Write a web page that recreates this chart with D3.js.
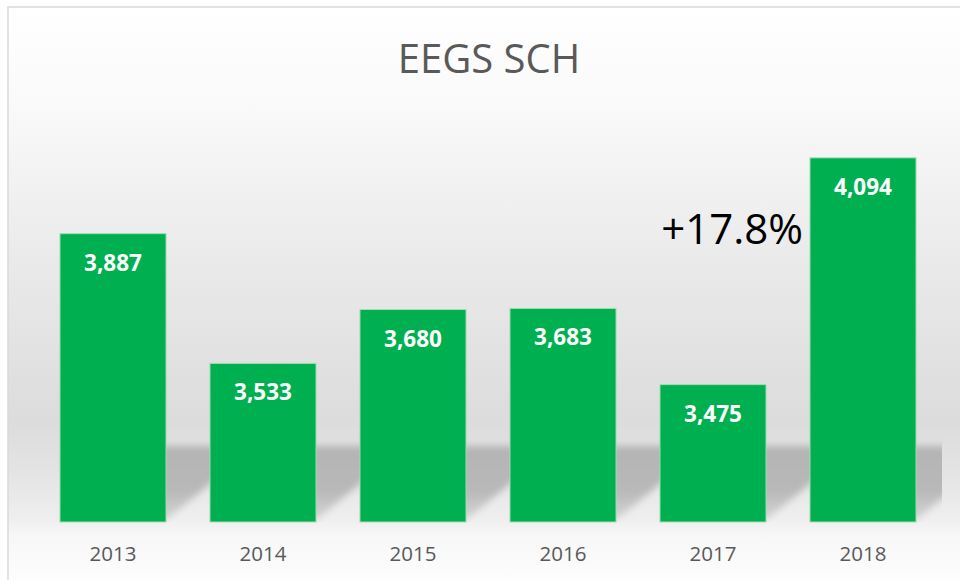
<!DOCTYPE html>
<html>
<head>
<meta charset="utf-8">
<script src="https://cdn.jsdelivr.net/npm/d3@7"></script>
<style>
  body { margin: 0; background: #fff; }
  svg { display: block; font-family: "Open Sans", sans-serif; }
</style>
</head>
<body>
<svg id="chart" width="960" height="580"></svg>
<script>
// chart data
var years = ["2013", "2014", "2015", "2016", "2017", "2018"];
var counts = [3887, 3533, 3680, 3683, 3475, 4094];
var title = "EEGS SCH";
var growthLabel = "+17.8%";

var svg = d3.select("#chart"),
    plot = { left: 38, right: 938, top: 119, bottom: 522 };

var defs = svg.append("defs");

// chart background: light vertical gradient like the office chart style
var bg = defs.append("linearGradient")
    .attr("id", "bg")
    .attr("gradientUnits", "userSpaceOnUse")
    .attr("x1", 0).attr("y1", 7).attr("x2", 0).attr("y2", 580);
[[7, "#ffffff"], [100, "#fafafa"], [250, "#ebebeb"], [420, "#dcdcdc"],
 [470, "#e3e3e3"], [520, "#efefef"], [535, "#f7f7f7"], [580, "#fdfdfd"]]
    .forEach(function (s) {
        bg.append("stop")
            .attr("offset", ((s[0] - 7) / 573 * 100) + "%")
            .attr("stop-color", s[1]);
    });

// shadow fades out towards the floor line
var sh = defs.append("linearGradient")
    .attr("id", "shadowFill")
    .attr("x1", 0).attr("y1", 0).attr("x2", 0).attr("y2", 1);
sh.append("stop").attr("offset", "0%").attr("stop-color", "#b4b4b4");
sh.append("stop").attr("offset", "60%").attr("stop-color", "#b8b8b8");
sh.append("stop").attr("offset", "100%").attr("stop-color", "#d6d6d6");

defs.append("filter")
    .attr("id", "blur")
    .attr("x", "-30%").attr("y", "-30%").attr("width", "160%").attr("height", "160%")
    .append("feGaussianBlur").attr("stdDeviation", 3.5);

defs.append("clipPath").attr("id", "plotClip")
    .append("rect")
    .attr("x", plot.left).attr("y", plot.top)
    .attr("width", 942 - plot.left).attr("height", plot.bottom - plot.top);

svg.append("rect")
    .attr("x", 8).attr("y", 7)
    .attr("width", 980).attr("height", 600)
    .attr("fill", "url(#bg)")
    .attr("stroke", "#d9d9d9")
    .attr("stroke-width", 1.5);

var x = d3.scaleBand()
    .domain(years)
    .range([plot.left, plot.right])
    .paddingInner(0.293)
    .paddingOuter(0.1465);

var y = d3.scaleLinear()
    .domain([3100, 4200])
    .range([plot.bottom, plot.top]);

var data = years.map(function (yr, i) {
    return { year: yr, count: counts[i] };
});

// perspective shadows behind the bars
var shadowDx = 90, shadowH = 74;
svg.append("g")
    .attr("clip-path", "url(#plotClip)")
    .append("g")
    .attr("filter", "url(#blur)")
    .selectAll("path")
    .data(data)
    .enter()
    .append("path")
    .attr("fill", "url(#shadowFill)")
    .attr("d", function (d) {
        var x0 = x(d.year), x1 = x0 + x.bandwidth(), b = plot.bottom - 2;
        return "M" + x0 + "," + b + "L" + x1 + "," + b +
            "L" + (x1 + shadowDx) + "," + (b - shadowH) +
            "L" + (x0 + shadowDx) + "," + (b - shadowH) + "Z";
    });

// bars
svg.append("g")
    .selectAll("rect")
    .data(data)
    .enter()
    .append("rect")
    .attr("x", function (d) { return x(d.year); })
    .attr("y", function (d) { return y(d.count); })
    .attr("width", x.bandwidth())
    .attr("height", function (d) { return plot.bottom - y(d.count); })
    .attr("fill", "#00b050")
    .attr("stroke", "#a6dcb6")
    .attr("stroke-width", 1);

// value labels inside bars
svg.append("g")
    .selectAll("text")
    .data(data)
    .enter()
    .append("text")
    .attr("x", function (d) { return x(d.year) + x.bandwidth() / 2; })
    .attr("y", function (d) { return y(d.count) + 37; })
    .attr("text-anchor", "middle")
    .attr("fill", "#ffffff")
    .attr("font-weight", "bold")
    .attr("font-size", "22.5px")
    .text(function (d) { return d3.format(",")(d.count); });

// category axis
var axis = svg.append("g")
    .attr("transform", "translate(0," + plot.bottom + ")")
    .call(d3.axisBottom(x).tickSize(0).tickPadding(24));
axis.select(".domain").remove();
axis.selectAll("text")
    .attr("fill", "#595959")
    .attr("font-size", "20.5px")
    .attr("font-family", "Open Sans, sans-serif");

// title
svg.append("text")
    .attr("x", 489)
    .attr("y", 73)
    .attr("text-anchor", "middle")
    .attr("fill", "#595959")
    .attr("font-size", "40px")
    .text(title);

// growth annotation next to the last bar
var last = data[data.length - 1];
svg.append("text")
    .attr("x", x(last.year) - 7)
    .attr("y", y(last.count) + 86)
    .attr("text-anchor", "end")
    .attr("fill", "#000000")
    .attr("font-size", "42px")
    .text(growthLabel);
</script>
</body>
</html>
